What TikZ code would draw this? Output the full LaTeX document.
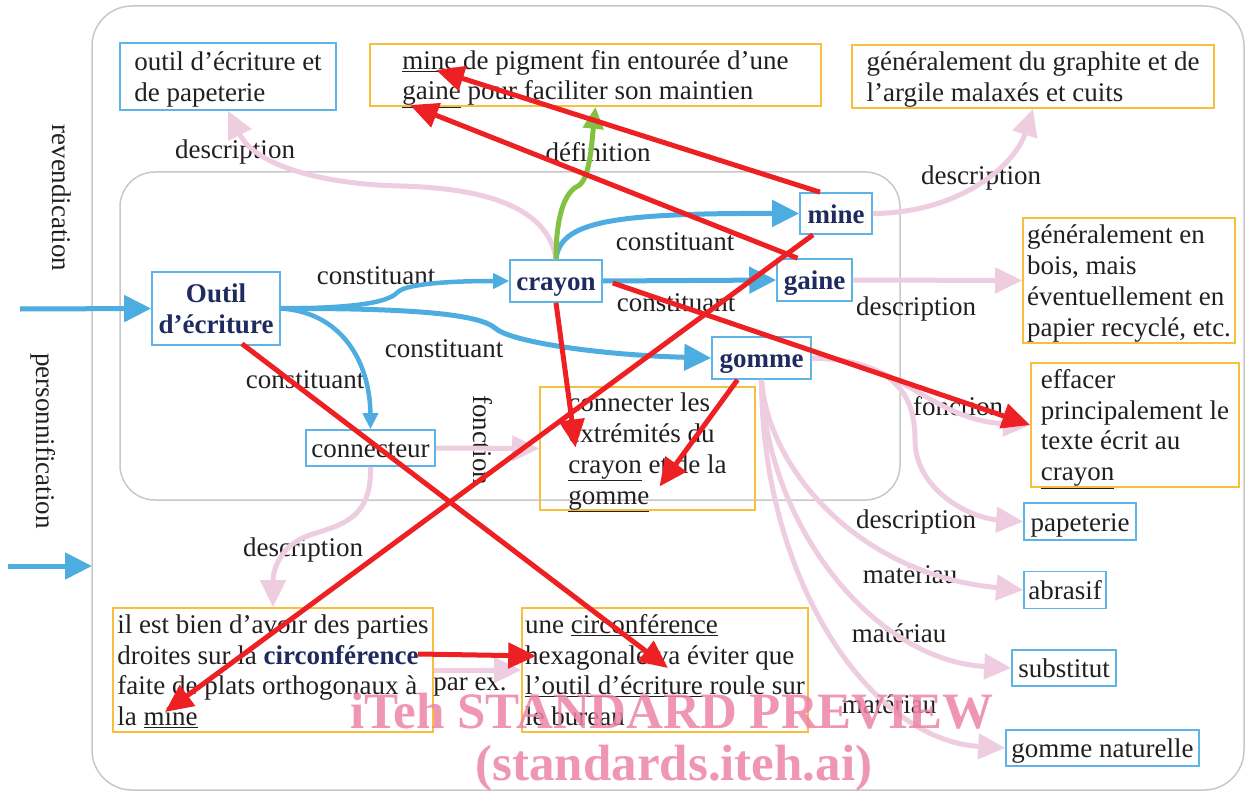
\documentclass[tikz,border=0pt]{standalone}
\usepackage{fontspec}
\setmainfont{Liberation Serif}
\usetikzlibrary{arrows.meta}
\definecolor{blu}{RGB}{77,172,224}
\definecolor{bbord}{RGB}{94,180,230}
\definecolor{orng}{RGB}{248,190,62}
\definecolor{pnk}{RGB}{238,205,225}
\definecolor{rd}{RGB}{237,33,36}
\definecolor{grn}{RGB}{130,193,65}
\definecolor{navy}{RGB}{31,42,94}
\definecolor{txt}{RGB}{35,31,32}
\definecolor{gry}{RGB}{200,200,200}
\definecolor{wm}{RGB}{236,132,166}
\begin{document}
\begin{tikzpicture}[x=1pt,y=-1pt,
  every node/.style={font=\fontsize{27}{30.7}\selectfont, text=txt},
  sz/.style 2 args={minimum width=#1pt, minimum height=#2pt},
  bbox/.style={draw=bbord, line width=1.6pt, align=left, inner sep=0pt, text height=22pt, text depth=3pt},
  obox/.style={draw=orng, line width=1.6pt, align=left, inner sep=0pt, text height=22pt, text depth=3pt},
  kbox/.style={bbox, font=\fontsize{27}{31}\selectfont\bfseries, text=navy, align=center},
  two/.style={text height=52.7pt},
  four/.style={text height=114.1pt},
  frame/.style={draw=gry, line width=1.5pt, inner sep=0pt},
  lab/.style={inner sep=0pt},
  bl/.style={draw=blu, line width=5pt, -{Triangle[length=27pt,width=26pt]}},
  bls/.style={draw=blu, line width=4.5pt, -{Triangle[length=16pt,width=15pt]}},
  pk/.style={draw=pnk, line width=5pt, -{Triangle[length=27pt,width=25pt]}},
  gr/.style={draw=grn, line width=5pt, -{Triangle[length=22pt,width=20pt]}},
  rdarr/.style={draw=rd, line width=5pt, -{Triangle[length=28pt,width=25pt]}},
  wmk/.style={font=\fontsize{51}{51}\selectfont\bfseries, text=wm, opacity=0.85, inner sep=0pt}
]
\useasboundingbox (0,0) rectangle (1246,794);

% frames
\node[frame, rounded corners=40pt, sz={1152}{784}] (outer) at (668,398) {};
\node[frame, rounded corners=35pt, sz={780}{328}] (inner) at (510,336) {};

% text boxes
\node[bbox, two, sz={216}{67}] (tdesc) at (228,76.5) {outil d’écriture et\\de papeterie};
\node[obox, two, sz={451}{62}] (tdef) at (595.5,75) {\underline{mine} de pigment fin entourée d’une\\\underline{gaine} pour faciliter son maintien};
\node[obox, two, sz={362}{63}] (tgraph) at (1033,76.5) {généralement du graphite et de\\l’argile malaxés et cuits};
\node[obox, four, sz={212}{125}] (tbois) at (1129,280.5) {généralement en\\bois, mais\\éventuellement en\\papier recyclé, etc.};
\node[obox, four, sz={208}{124}] (teff) at (1135,425) {effacer\\principalement le\\texte écrit au\\\underline{crayon}};
\node[obox, four, sz={215}{123}] (tconn) at (647.5,448.5) {connecter les\\extrémités du\\\underline{crayon} et de la\\\underline{gomme}};
\node[obox, four, sz={320}{124}] (tbien) at (273,670) {il est bien d’avoir des parties\\droites sur la \textcolor{navy}{\textbf{circonférence}}\\faite de plats orthogonaux à\\la \underline{mine}};
\node[obox, four, sz={286}{124}] (tune) at (665,670) {une \underline{circonférence}\\hexagonale va éviter que\\\underline{l’outil d’écriture} roule sur\\le bureau};

% key nodes
\node[kbox, text height=53pt, sz={128}{73}] (outil) at (216,308.5) {Outil\\d’écriture};
\node[kbox, sz={92}{42}] (crayon) at (556,281) {crayon};
\node[kbox, sz={72}{41}] (mine) at (836,213.5) {mine};
\node[kbox, sz={75}{42}] (gaine) at (814.5,280) {gaine};
\node[kbox, sz={99}{42}] (gomme) at (761.5,358) {gomme};
\node[bbox, sz={129}{36}] (conn) at (370.5,448) {connecteur};
\node[bbox, sz={112}{37}] (tpap) at (1080,521.5) {papeterie};
\node[bbox, sz={82}{37}] (tabr) at (1065,590) {abrasif};
\node[bbox, sz={104}{36}] (tsub) at (1064,668) {substitut};
\node[bbox, sz={193}{36}] (tgn) at (1102.5,748) {gomme naturelle};

% labels
\node[lab] (l1) at (235,152) {description};
\node[lab] (l2) at (598,152) {définition};
\node[lab] (l3) at (981,178) {description};
\node[lab] (l4) at (376,276) {constituant};
\node[lab] (l5) at (675,242) {constituant};
\node[lab] (l6) at (676,303) {constituant};
\node[lab] (l7) at (444,349) {constituant};
\node[lab] (l8) at (305,380) {constituant};
\node[lab] (l9) at (916,309) {description};
\node[lab, rotate=-90] (l10) at (483,440) {fonction};
\node[lab] (l11) at (958,406) {fonction};
\node[lab] (l12) at (916,522) {description};
\node[lab] (l13) at (910,574) {matériau};
\node[lab] (l14) at (899,633) {matériau};
\node[lab] (l15) at (889,704) {matériau};
\node[lab] (l16) at (303,550) {description};
\node[lab] (l17) at (470,687) {par ex.};
\node[lab, rotate=-90] (l18) at (62,198) {revendication};
\node[lab, rotate=-90] (l19) at (43,441) {personnification};

% pink connectors
\draw[pk] (crayon.north) .. controls (548,205) and (480,188) .. (400,186) .. controls (320,184) and (255,165) .. (tdesc.south);
\draw[pk] (mine.east) .. controls (960,213) and (1015,165) .. (tgraph.south);
\draw[pk] (gaine.east) -- (tbois.west);
\draw[pk] (conn.east) -- (tconn.west);
\draw[pk] (conn.south) .. controls (372,520) and (340,525) .. (310,535) .. controls (280,545) and (273,570) .. (tbien.north);
\draw[pk] (tbien.east) -- (tune.west);
\draw[pk] (gomme.east) .. controls (900,358) and (930,420) .. (teff.west);
\draw[pk] (gomme.east) .. controls (900,360) and (915,400) .. (915,440) .. controls (915,490) and (970,518) .. (tpap.west);
\draw[pk] (gomme.south) .. controls (768,470) and (860,575) .. (tabr.west);
\draw[pk] (gomme.south) .. controls (765,520) and (870,660) .. (tsub.west);
\draw[pk] (gomme.south) .. controls (762,580) and (870,740) .. (tgn.west);

% blue connectors
\coordinate (s1) at (20,309);
\coordinate (s2) at (8,566);
\coordinate (e2) at (92,566);
\draw[bl] (s1) -- (outil.west);
\draw[bl] (s2) -- (e2);
\draw[bls] (outil.east) .. controls (370,308) and (390,300) .. (398,292) .. controls (405,285) and (440,281) .. (crayon.west);
\draw[bl] (outil.east) .. controls (420,308) and (480,315) .. (495,328) .. controls (510,342) and (600,355) .. (gomme.west);
\draw[bls] (outil.east) .. controls (340,312) and (370,360) .. (conn.north);
\draw[bl] (crayon.north) .. controls (560,222) and (610,213) .. (mine.west);
\draw[bl] (crayon.east) -- (gaine.west);

% green
\draw[gr] (crayon.north) .. controls (556,215) and (565,192) .. (578,186) .. controls (590,180) and (592,140) .. (tdef.south);

% red
\draw[rdarr] ([shift={(-16,0)}]mine.north) -- ([shift={(-159.5,-5)}]tdef.center);
\draw[rdarr] ([shift={(-17,0)}]gaine.north) -- ([shift={(-185.5,30)}]tdef.center);
\draw[rdarr] ([shift={(-23,0)}]mine.south) -- ([shift={(-108,42)}]tbien.center);
\draw[rdarr] ([shift={(26,-2)}]outil.south) -- ([shift={(3,-2)}]tune.center);
\draw[rdarr] (crayon.south) -- ([shift={(-72,-1)}]tconn.center);
\draw[rdarr] ([shift={(-24,0)}]gomme.south) -- ([shift={(12,38)}]tconn.center);
\draw[rdarr] ([shift={(10,2)}]crayon.east) -- (teff.west);
\draw[rdarr] ([shift={(145,-16)}]tbien.center) -- ([shift={(15,-14)}]tune.west);

% watermark
\node[wmk] (wm1) at (672,711) {iTeh STANDARD PREVIEW};
\node[wmk] (wm2) at (674,768) {(standards.iteh.ai)};
\end{tikzpicture}
\end{document}
